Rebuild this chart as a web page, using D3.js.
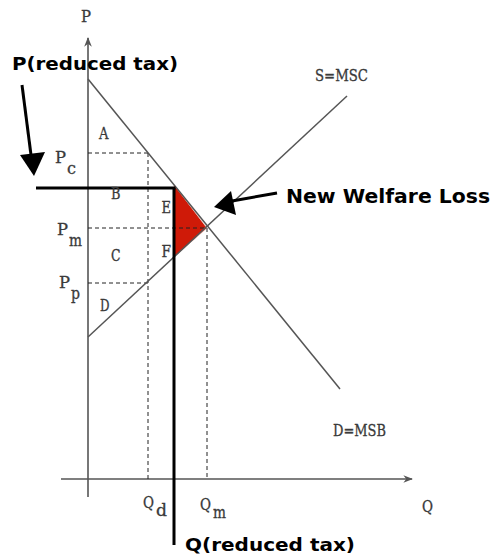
<!DOCTYPE html>
<html>
<head>
<meta charset="utf-8">
<script src="https://cdn.jsdelivr.net/npm/d3@7"></script>
<style>
  html, body { margin: 0; padding: 0; background: #fff; }
  svg { display: block; }
</style>
</head>
<body>
<svg id="chart" width="494" height="557"></svg>
<script>
// Market model: quantity on x, price on y (arbitrary units)
const demandCurve = [{q: 0, p: 20}, {q: 12.6, p: 4.5}];
const supplyCurve = [{q: 0, p: 7.1}, {q: 12.95, p: 19.15}];
const quantityMarks = [
  {key: "Qd", q: 3.0, base: "Q", sub: "d"},
  {key: "Qm", q: 5.95, base: "Q", sub: "m"}
];
const priceMarks = [
  {key: "Pc", p: 16.3, base: "P", sub: "c", toQ: 3.0},
  {key: "Pm", p: 12.55, base: "P", sub: "m", toQ: 5.95},
  {key: "Pp", p: 9.8, base: "P", sub: "p", toQ: 3.0}
];
const reducedTax = {q: 4.3, p: 14.55};
const areaLabels = [
  {t: "A", q: 0.55, p: 17.0},
  {t: "B", q: 1.15, p: 14.0},
  {t: "E", q: 3.68, p: 13.3},
  {t: "C", q: 1.15, p: 10.9},
  {t: "F", q: 3.68, p: 11.1},
  {t: "D", q: 0.6, p: 8.4}
];

const svg = d3.select("#chart");
const x = d3.scaleLinear().domain([0, 16.2]).range([88, 412]);
const y = d3.scaleLinear().domain([0, 22.05]).range([479, 38]);

const axisColor = "#555";
const serif = "'DejaVu Serif Condensed', 'DejaVu Serif', serif";
const labelColor = "#3a3a3a";

const demandAt = q => demandCurve[0].p + (demandCurve[1].p - demandCurve[0].p) / demandCurve[1].q * q;
const supplyAt = q => supplyCurve[0].p + (supplyCurve[1].p - supplyCurve[0].p) / supplyCurve[1].q * q;

// Welfare loss triangle
const tri = [
  [reducedTax.q, demandAt(reducedTax.q)],
  [quantityMarks[1].q, priceMarks[1].p],
  [reducedTax.q, supplyAt(reducedTax.q)]
];
svg.append("path")
  .attr("d", d3.line().x(d => x(d[0])).y(d => y(d[1]))(tri) + "Z")
  .attr("fill", "#cf1a08")
  .attr("stroke", "#f3d0c8")
  .attr("stroke-width", 0.8);

// Axes
const defs = svg.append("defs");
defs.append("marker").attr("id", "axArrow")
  .attr("viewBox", "0 0 10 10").attr("refX", 9).attr("refY", 5)
  .attr("markerWidth", 6).attr("markerHeight", 6).attr("orient", "auto")
  .append("path").attr("d", "M0,1 L10,5 L0,9 L3,5 Z").attr("fill", axisColor);

svg.append("line")
  .attr("x1", x(0)).attr("y1", y(-0.9)).attr("x2", x(0)).attr("y2", y(22.05))
  .attr("stroke", axisColor).attr("stroke-width", 1.6)
  .attr("marker-end", "url(#axArrow)");
svg.append("line")
  .attr("x1", x(-1.35)).attr("y1", y(0)).attr("x2", x(16.2)).attr("y2", y(0))
  .attr("stroke", axisColor).attr("stroke-width", 1.6)
  .attr("marker-end", "url(#axArrow)");

// Dashed guide lines
const dash = "4,3";
priceMarks.forEach(m => {
  svg.append("line")
    .attr("x1", x(0)).attr("x2", x(m.toQ))
    .attr("y1", y(m.p)).attr("y2", y(m.p))
    .attr("stroke", "#222").attr("stroke-width", 1).attr("stroke-dasharray", dash);
});
svg.append("line")
  .attr("x1", x(quantityMarks[0].q)).attr("x2", x(quantityMarks[0].q))
  .attr("y1", y(priceMarks[0].p)).attr("y2", y(0))
  .attr("stroke", "#222").attr("stroke-width", 1).attr("stroke-dasharray", dash);
svg.append("line")
  .attr("x1", x(quantityMarks[1].q)).attr("x2", x(quantityMarks[1].q))
  .attr("y1", y(priceMarks[1].p)).attr("y2", y(0))
  .attr("stroke", "#222").attr("stroke-width", 1).attr("stroke-dasharray", dash);

// Demand and supply curves
const curve = d3.line().x(d => x(d.q)).y(d => y(d.p));
[demandCurve, supplyCurve].forEach(c => {
  svg.append("path").attr("d", curve(c))
    .attr("fill", "none").attr("stroke", "#555").attr("stroke-width", 1.5);
});

// Reduced-tax price and quantity (thick black)
svg.append("line")
  .attr("x1", x(-2.6)).attr("x2", x(reducedTax.q) + 1.5)
  .attr("y1", y(reducedTax.p)).attr("y2", y(reducedTax.p))
  .attr("stroke", "#000").attr("stroke-width", 3);
svg.append("line")
  .attr("x1", x(reducedTax.q)).attr("x2", x(reducedTax.q))
  .attr("y1", y(reducedTax.p)).attr("y2", y(-3.3))
  .attr("stroke", "#000").attr("stroke-width", 3);

// Axis titles and curve names
const addText = (t, px, py, size, opts = {}) => {
  const el = svg.append("text").attr("x", px).attr("y", py)
    .attr("font-family", opts.family || serif)
    .attr("font-size", size)
    .attr("fill", opts.fill || labelColor)
    .attr("font-weight", opts.weight || "normal")
    .text(t);
  if (!opts.family) el.attr("stroke", labelColor).attr("stroke-width", 0.3);
  if (opts.len) el.attr("textLength", opts.len).attr("lengthAdjust", "spacingAndGlyphs");
  return el;
};
addText("P", 81, 22, 16, {len: 10});
addText("Q", 422, 512, 16, {len: 11});
addText("S=MSC", 315, 81, 17, {len: 53});
addText("D=MSB", 333, 436, 17, {len: 53});

// Subscripted price labels
const priceLabelPos = {Pc: [55, 163], Pm: [57, 235], Pp: [59, 288]};
priceMarks.forEach(m => {
  const [px, py] = priceLabelPos[m.key];
  addText(m.base, px, py, 17, {len: 11});
  addText(m.sub, px + 12, py + 11, 17, {len: m.sub === "m" ? 13 : 9});
});
const qLabelPos = {Qd: [143, 508], Qm: [200, 510]};
quantityMarks.forEach(m => {
  const [px, py] = qLabelPos[m.key];
  addText(m.base, px, py, 16, {len: 11});
  addText(m.sub, px + 13, py + 8, 17, {len: m.sub === "m" ? 13 : 11});
});

// Area letters
areaLabels.forEach(a => {
  addText(a.t, x(a.q), y(a.p), 16, {len: 9.5});
});

// Callout text
const sans = "'DejaVu Sans', Verdana, sans-serif";
addText("P(reduced tax)", 12, 70, 18, {family: sans, weight: "bold", fill: "#000", len: 166});
addText("Q(reduced tax)", 185, 551, 18, {family: sans, weight: "bold", fill: "#000", len: 170});
addText("New Welfare Loss", 286, 203, 19, {family: sans, weight: "bold", fill: "#000", len: 204});

// Pointer arrows
svg.append("path")
  .attr("d", "M22,85 L31,155")
  .attr("stroke", "#000").attr("stroke-width", 3).attr("fill", "none");
svg.append("path")
  .attr("d", "M20,155 L45,152 L34,176 Z").attr("fill", "#000");
svg.append("path")
  .attr("d", "M277,193 L232,201")
  .attr("stroke", "#000").attr("stroke-width", 3).attr("fill", "none");
svg.append("path")
  .attr("d", "M231,191 L236,215 L214,207 Z").attr("fill", "#000");
</script>
</body>
</html>
